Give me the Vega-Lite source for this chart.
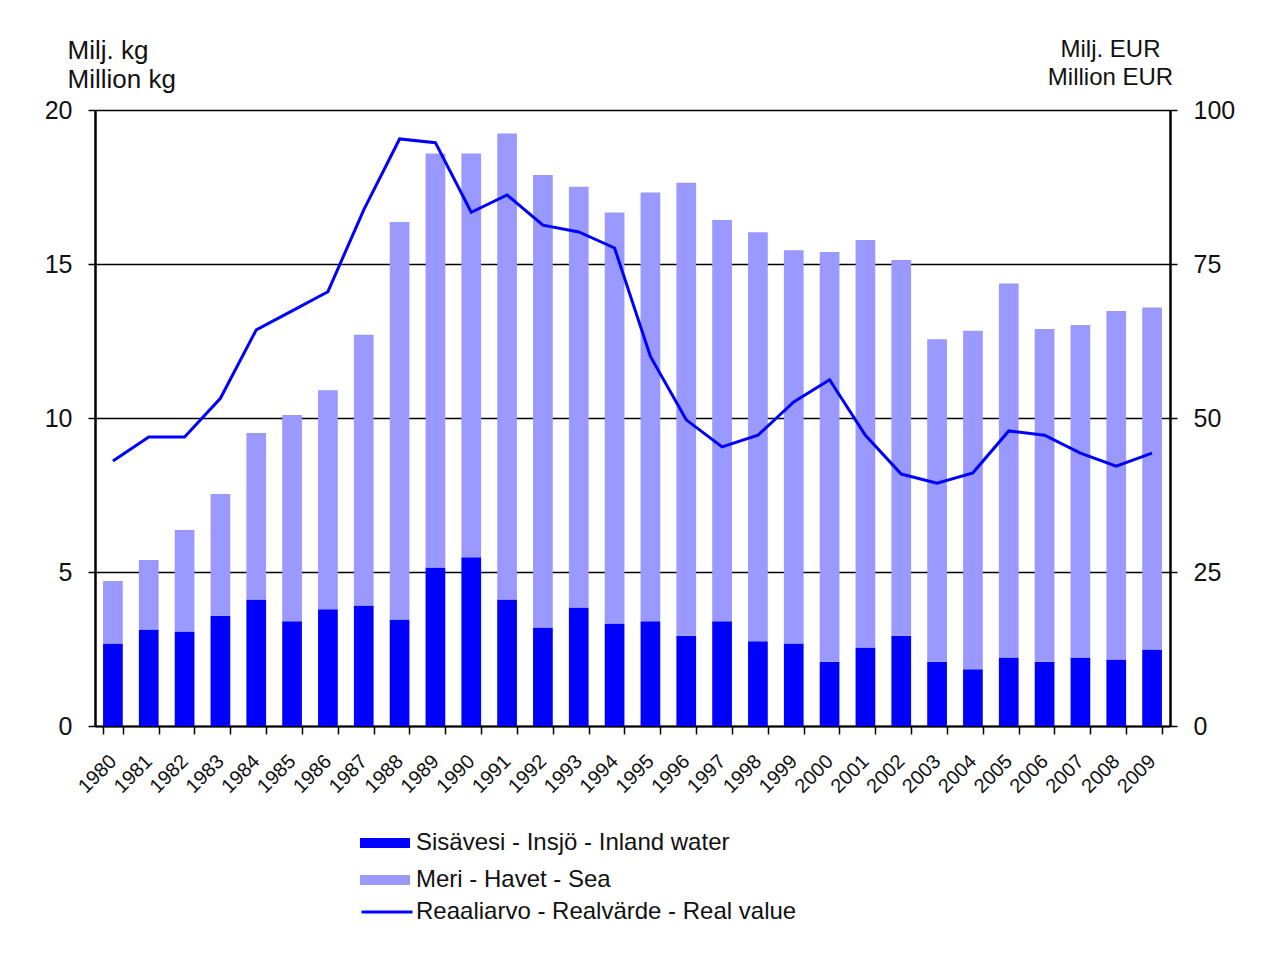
{
  "$schema": "https://vega.github.io/schema/vega-lite/v6.json",
  "width": 1075,
  "height": 616,
  "autosize": {"type": "none"},
  "padding": {"left": 95, "top": 110, "right": 96, "bottom": 228},
  "background": "white",
  "config": {
    "view": {"stroke": null},
    "font": "Liberation Sans",
    "axis": {"labelFont": "Liberation Sans", "titleFont": "Liberation Sans", "labelColor": "#111111", "titleColor": "#111111", "titleFontWeight": "normal"},
    "legend": {"labelFont": "Liberation Sans", "labelColor": "#111111", "labelLimit": 0}
  },
  "datasets": {
    "catch": [
      {"year": 1980, "kind": "Sisävesi  - Insjö - Inland water", "value": 2.68},
      {"year": 1980, "kind": "Meri  - Havet - Sea", "value": 2.03},
      {"year": 1981, "kind": "Sisävesi  - Insjö - Inland water", "value": 3.13},
      {"year": 1981, "kind": "Meri  - Havet - Sea", "value": 2.26},
      {"year": 1982, "kind": "Sisävesi  - Insjö - Inland water", "value": 3.07},
      {"year": 1982, "kind": "Meri  - Havet - Sea", "value": 3.29},
      {"year": 1983, "kind": "Sisävesi  - Insjö - Inland water", "value": 3.58},
      {"year": 1983, "kind": "Meri  - Havet - Sea", "value": 3.95},
      {"year": 1984, "kind": "Sisävesi  - Insjö - Inland water", "value": 4.11},
      {"year": 1984, "kind": "Meri  - Havet - Sea", "value": 5.40},
      {"year": 1985, "kind": "Sisävesi  - Insjö - Inland water", "value": 3.40},
      {"year": 1985, "kind": "Meri  - Havet - Sea", "value": 6.70},
      {"year": 1986, "kind": "Sisävesi  - Insjö - Inland water", "value": 3.79},
      {"year": 1986, "kind": "Meri  - Havet - Sea", "value": 7.11},
      {"year": 1987, "kind": "Sisävesi  - Insjö - Inland water", "value": 3.91},
      {"year": 1987, "kind": "Meri  - Havet - Sea", "value": 8.79},
      {"year": 1988, "kind": "Sisävesi  - Insjö - Inland water", "value": 3.46},
      {"year": 1988, "kind": "Meri  - Havet - Sea", "value": 12.90},
      {"year": 1989, "kind": "Sisävesi  - Insjö - Inland water", "value": 5.15},
      {"year": 1989, "kind": "Meri  - Havet - Sea", "value": 13.44},
      {"year": 1990, "kind": "Sisävesi  - Insjö - Inland water", "value": 5.48},
      {"year": 1990, "kind": "Meri  - Havet - Sea", "value": 13.11},
      {"year": 1991, "kind": "Sisävesi  - Insjö - Inland water", "value": 4.11},
      {"year": 1991, "kind": "Meri  - Havet - Sea", "value": 15.13},
      {"year": 1992, "kind": "Sisävesi  - Insjö - Inland water", "value": 3.20},
      {"year": 1992, "kind": "Meri  - Havet - Sea", "value": 14.69},
      {"year": 1993, "kind": "Sisävesi  - Insjö - Inland water", "value": 3.85},
      {"year": 1993, "kind": "Meri  - Havet - Sea", "value": 13.66},
      {"year": 1994, "kind": "Sisävesi  - Insjö - Inland water", "value": 3.33},
      {"year": 1994, "kind": "Meri  - Havet - Sea", "value": 13.34},
      {"year": 1995, "kind": "Sisävesi  - Insjö - Inland water", "value": 3.40},
      {"year": 1995, "kind": "Meri  - Havet - Sea", "value": 13.92},
      {"year": 1996, "kind": "Sisävesi  - Insjö - Inland water", "value": 2.93},
      {"year": 1996, "kind": "Meri  - Havet - Sea", "value": 14.71},
      {"year": 1997, "kind": "Sisävesi  - Insjö - Inland water", "value": 3.40},
      {"year": 1997, "kind": "Meri  - Havet - Sea", "value": 13.03},
      {"year": 1998, "kind": "Sisävesi  - Insjö - Inland water", "value": 2.75},
      {"year": 1998, "kind": "Meri  - Havet - Sea", "value": 13.28},
      {"year": 1999, "kind": "Sisävesi  - Insjö - Inland water", "value": 2.68},
      {"year": 1999, "kind": "Meri  - Havet - Sea", "value": 12.77},
      {"year": 2000, "kind": "Sisävesi  - Insjö - Inland water", "value": 2.09},
      {"year": 2000, "kind": "Meri  - Havet - Sea", "value": 13.30},
      {"year": 2001, "kind": "Sisävesi  - Insjö - Inland water", "value": 2.55},
      {"year": 2001, "kind": "Meri  - Havet - Sea", "value": 13.23},
      {"year": 2002, "kind": "Sisävesi  - Insjö - Inland water", "value": 2.93},
      {"year": 2002, "kind": "Meri  - Havet - Sea", "value": 12.20},
      {"year": 2003, "kind": "Sisävesi  - Insjö - Inland water", "value": 2.09},
      {"year": 2003, "kind": "Meri  - Havet - Sea", "value": 10.47},
      {"year": 2004, "kind": "Sisävesi  - Insjö - Inland water", "value": 1.84},
      {"year": 2004, "kind": "Meri  - Havet - Sea", "value": 10.99},
      {"year": 2005, "kind": "Sisävesi  - Insjö - Inland water", "value": 2.22},
      {"year": 2005, "kind": "Meri  - Havet - Sea", "value": 12.15},
      {"year": 2006, "kind": "Sisävesi  - Insjö - Inland water", "value": 2.09},
      {"year": 2006, "kind": "Meri  - Havet - Sea", "value": 10.80},
      {"year": 2007, "kind": "Sisävesi  - Insjö - Inland water", "value": 2.22},
      {"year": 2007, "kind": "Meri  - Havet - Sea", "value": 10.80},
      {"year": 2008, "kind": "Sisävesi  - Insjö - Inland water", "value": 2.16},
      {"year": 2008, "kind": "Meri  - Havet - Sea", "value": 11.31},
      {"year": 2009, "kind": "Sisävesi  - Insjö - Inland water", "value": 2.48},
      {"year": 2009, "kind": "Meri  - Havet - Sea", "value": 11.11}
    ],
    "real": [
      {"year": 1980, "series": "Reaaliarvo  - Realvärde  - Real value", "value": 43.0},
      {"year": 1981, "series": "Reaaliarvo  - Realvärde  - Real value", "value": 46.9},
      {"year": 1982, "series": "Reaaliarvo  - Realvärde  - Real value", "value": 46.9},
      {"year": 1983, "series": "Reaaliarvo  - Realvärde  - Real value", "value": 53.2},
      {"year": 1984, "series": "Reaaliarvo  - Realvärde  - Real value", "value": 64.3},
      {"year": 1985, "series": "Reaaliarvo  - Realvärde  - Real value", "value": 67.4},
      {"year": 1986, "series": "Reaaliarvo  - Realvärde  - Real value", "value": 70.5},
      {"year": 1987, "series": "Reaaliarvo  - Realvärde  - Real value", "value": 83.8},
      {"year": 1988, "series": "Reaaliarvo  - Realvärde  - Real value", "value": 95.3},
      {"year": 1989, "series": "Reaaliarvo  - Realvärde  - Real value", "value": 94.7},
      {"year": 1990, "series": "Reaaliarvo  - Realvärde  - Real value", "value": 83.4},
      {"year": 1991, "series": "Reaaliarvo  - Realvärde  - Real value", "value": 86.2},
      {"year": 1992, "series": "Reaaliarvo  - Realvärde  - Real value", "value": 81.3},
      {"year": 1993, "series": "Reaaliarvo  - Realvärde  - Real value", "value": 80.2},
      {"year": 1994, "series": "Reaaliarvo  - Realvärde  - Real value", "value": 77.6},
      {"year": 1995, "series": "Reaaliarvo  - Realvärde  - Real value", "value": 60.0},
      {"year": 1996, "series": "Reaaliarvo  - Realvärde  - Real value", "value": 49.7},
      {"year": 1997, "series": "Reaaliarvo  - Realvärde  - Real value", "value": 45.3},
      {"year": 1998, "series": "Reaaliarvo  - Realvärde  - Real value", "value": 47.2},
      {"year": 1999, "series": "Reaaliarvo  - Realvärde  - Real value", "value": 52.6},
      {"year": 2000, "series": "Reaaliarvo  - Realvärde  - Real value", "value": 56.2},
      {"year": 2001, "series": "Reaaliarvo  - Realvärde  - Real value", "value": 47.2},
      {"year": 2002, "series": "Reaaliarvo  - Realvärde  - Real value", "value": 40.9},
      {"year": 2003, "series": "Reaaliarvo  - Realvärde  - Real value", "value": 39.4},
      {"year": 2004, "series": "Reaaliarvo  - Realvärde  - Real value", "value": 41.1},
      {"year": 2005, "series": "Reaaliarvo  - Realvärde  - Real value", "value": 47.9},
      {"year": 2006, "series": "Reaaliarvo  - Realvärde  - Real value", "value": 47.2},
      {"year": 2007, "series": "Reaaliarvo  - Realvärde  - Real value", "value": 44.3},
      {"year": 2008, "series": "Reaaliarvo  - Realvärde  - Real value", "value": 42.2},
      {"year": 2009, "series": "Reaaliarvo  - Realvärde  - Real value", "value": 44.3}
    ]
  },
  "layer": [
    {
      "data": {"name": "catch"},
      "mark": {"type": "bar"},
      "encoding": {
        "x": {
          "field": "year", "type": "ordinal",
          "scale": {"paddingInner": 0.45, "paddingOuter": 0.225},
          "axis": {
            "title": null, "tickBand": "extent", "tickOffset": 8, "labelOffset": 0,
            "labelAngle": -45, "labelAlign": "right", "labelBaseline": "middle",
            "labelFontSize": 20, "labelPadding": 24, "tickSize": 8, "tickColor": "black", "tickWidth": 1.5,
            "domainColor": "black", "domainWidth": 2, "grid": false
          }
        },
        "y": {
          "field": "value", "type": "quantitative", "stack": "zero",
          "scale": {"domain": [0, 20], "nice": false},
          "axis": {
            "values": [0, 5, 10, 15, 20], "grid": true, "gridColor": "black", "gridWidth": 1.5, "gridOpacity": 1,
            "domainColor": "black", "domainWidth": 2.5, "tickColor": "black", "tickSize": 7, "tickWidth": 1.5,
            "labelFontSize": 25, "labelPadding": 16,
            "title": ["Milj. kg", "Million kg"], "titleAngle": 0, "titleAlign": "left", "titleBaseline": "alphabetic",
            "titleX": -28, "titleY": -52, "titleFontSize": 26, "titleLineHeight": 29
          }
        },
        "color": {
          "field": "kind", "type": "nominal",
          "scale": {"domain": ["Sisävesi  - Insjö - Inland water", "Meri  - Havet - Sea"], "range": ["#0000FF", "#9999FF"]},
          "legend": {
            "title": null, "orient": "none", "legendX": 265, "legendY": 708,
            "symbolType": "M-1,-0.2H1V0.2H-1Z", "symbolSize": 2500, "symbolStrokeWidth": 0, "symbolOpacity": 1,
            "labelFontSize": 24, "labelOffset": 6, "rowPadding": -16
          }
        },
        "order": {"field": "kind", "sort": "descending"}
      }
    },
    {
      "data": {"name": "real"},
      "mark": {"type": "line", "strokeWidth": 3},
      "encoding": {
        "x": {"field": "year", "type": "ordinal"},
        "y": {
          "field": "value", "type": "quantitative",
          "scale": {"domain": [0, 100], "nice": false},
          "axis": {
            "orient": "right", "values": [0, 25, 50, 75, 100], "grid": false,
            "domainColor": "black", "domainWidth": 2.5, "tickColor": "black", "tickSize": 7, "tickWidth": 1.5,
            "labelFontSize": 25, "labelPadding": 16,
            "title": ["Milj. EUR", "Million EUR"], "titleAngle": 0, "titleAlign": "center", "titleBaseline": "alphabetic",
            "titleX": -60, "titleY": -54, "titleFontSize": 24, "titleLineHeight": 28
          }
        },
        "stroke": {
          "field": "series", "type": "nominal",
          "scale": {"range": ["#0000FF"]},
          "legend": {
            "title": null, "orient": "none", "legendX": 265, "legendY": 775,
            "symbolType": "stroke", "symbolSize": 2600, "symbolStrokeWidth": 3,
            "labelFontSize": 24, "labelOffset": 2
          }
        }
      }
    }
  ],
  "resolve": {"scale": {"y": "independent"}}
}
